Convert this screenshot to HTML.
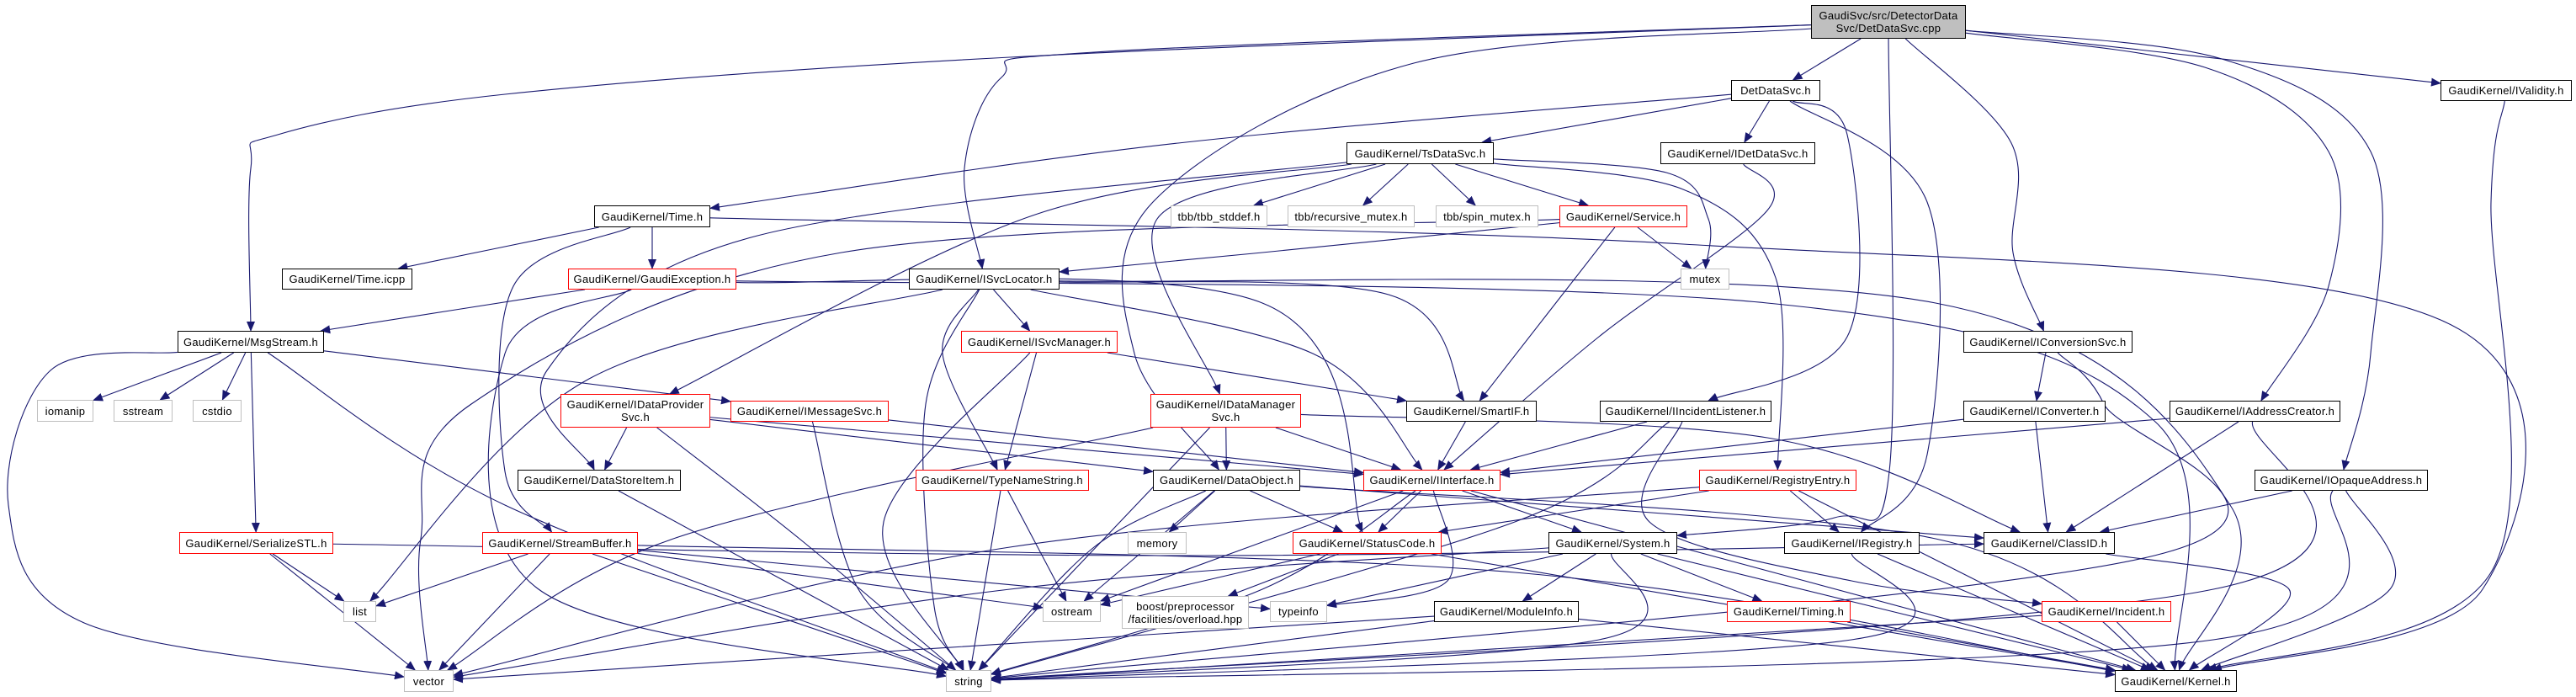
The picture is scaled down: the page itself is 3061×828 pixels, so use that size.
<!DOCTYPE html>
<html><head><meta charset="utf-8">
<style>
html,body{margin:0;padding:0;background:#fff;}
#c{position:relative;width:3061px;height:828px;overflow:hidden;font-family:"Liberation Sans",Arial,sans-serif;}
svg{position:absolute;left:0;top:0;}
.n{position:absolute;box-sizing:border-box;border:1.5px solid #000;background:#fff;font-size:13px;letter-spacing:0.3px;line-height:15px;text-align:center;display:flex;align-items:center;justify-content:center;color:#000;white-space:nowrap;}
.r{border-color:#ff0000;}
.g{border-color:#bfbfbf;}
.m{background:#bfbfbf;border-color:#000;}
</style></head><body><div id="c">
<svg id="s" width="3061" height="828" viewBox="0 0 3061 828">
<defs><marker id="a" markerWidth="12" markerHeight="10" refX="11" refY="5" orient="auto" markerUnits="userSpaceOnUse"><path d="M0,0 L12,5 L0,10 z" fill="#191970"/></marker></defs>
<g id="e" fill="none" stroke="#191970" stroke-width="1.1"></g>
</svg>
<div class="n m" style="left:2152px;top:6px;width:184px;height:40px;">GaudiSvc/src/DetectorData<br>Svc/DetDataSvc.cpp</div>
<div class="n" style="left:2057px;top:95px;width:106px;height:25px;">DetDataSvc.h</div>
<div class="n" style="left:2900px;top:95px;width:156px;height:25px;">GaudiKernel/IValidity.h</div>
<div class="n" style="left:1600px;top:169px;width:175px;height:26px;">GaudiKernel/TsDataSvc.h</div>
<div class="n" style="left:1973px;top:169px;width:184px;height:26px;">GaudiKernel/IDetDataSvc.h</div>
<div class="n" style="left:706px;top:244px;width:138px;height:26px;">GaudiKernel/Time.h</div>
<div class="n g" style="left:1391px;top:244px;width:115px;height:26px;">tbb/tbb_stddef.h</div>
<div class="n g" style="left:1530px;top:244px;width:151px;height:26px;">tbb/recursive_mutex.h</div>
<div class="n g" style="left:1706px;top:244px;width:122px;height:26px;">tbb/spin_mutex.h</div>
<div class="n r" style="left:1853px;top:244px;width:152px;height:26px;">GaudiKernel/Service.h</div>
<div class="n" style="left:335px;top:319px;width:155px;height:25px;">GaudiKernel/Time.icpp</div>
<div class="n r" style="left:675px;top:319px;width:200px;height:25px;">GaudiKernel/GaudiException.h</div>
<div class="n" style="left:1080px;top:319px;width:179px;height:25px;">GaudiKernel/ISvcLocator.h</div>
<div class="n g" style="left:1997px;top:319px;width:58px;height:25px;">mutex</div>
<div class="n" style="left:211px;top:393px;width:174px;height:26px;">GaudiKernel/MsgStream.h</div>
<div class="n r" style="left:1142px;top:393px;width:186px;height:26px;">GaudiKernel/ISvcManager.h</div>
<div class="n" style="left:2333px;top:393px;width:201px;height:26px;">GaudiKernel/IConversionSvc.h</div>
<div class="n g" style="left:44px;top:475px;width:67px;height:26px;">iomanip</div>
<div class="n g" style="left:135px;top:475px;width:70px;height:26px;">sstream</div>
<div class="n g" style="left:229px;top:475px;width:58px;height:26px;">cstdio</div>
<div class="n r" style="left:666px;top:468px;width:178px;height:40px;">GaudiKernel/IDataProvider<br>Svc.h</div>
<div class="n r" style="left:868px;top:476px;width:188px;height:25px;">GaudiKernel/IMessageSvc.h</div>
<div class="n r" style="left:1367px;top:468px;width:179px;height:40px;">GaudiKernel/IDataManager<br>Svc.h</div>
<div class="n" style="left:1671px;top:476px;width:155px;height:25px;">GaudiKernel/SmartIF.h</div>
<div class="n" style="left:1901px;top:476px;width:204px;height:25px;">GaudiKernel/IIncidentListener.h</div>
<div class="n" style="left:2333px;top:476px;width:169px;height:25px;">GaudiKernel/IConverter.h</div>
<div class="n" style="left:2578px;top:476px;width:203px;height:25px;">GaudiKernel/IAddressCreator.h</div>
<div class="n" style="left:615px;top:558px;width:194px;height:25px;">GaudiKernel/DataStoreItem.h</div>
<div class="n r" style="left:1088px;top:558px;width:206px;height:25px;">GaudiKernel/TypeNameString.h</div>
<div class="n" style="left:1370px;top:558px;width:175px;height:25px;">GaudiKernel/DataObject.h</div>
<div class="n r" style="left:1620px;top:558px;width:163px;height:25px;">GaudiKernel/IInterface.h</div>
<div class="n r" style="left:2019px;top:558px;width:187px;height:25px;">GaudiKernel/RegistryEntry.h</div>
<div class="n" style="left:2679px;top:558px;width:206px;height:25px;">GaudiKernel/IOpaqueAddress.h</div>
<div class="n r" style="left:213px;top:632px;width:183px;height:26px;">GaudiKernel/SerializeSTL.h</div>
<div class="n r" style="left:573px;top:632px;width:185px;height:26px;">GaudiKernel/StreamBuffer.h</div>
<div class="n g" style="left:1340px;top:632px;width:70px;height:26px;">memory</div>
<div class="n r" style="left:1536px;top:632px;width:177px;height:26px;">GaudiKernel/StatusCode.h</div>
<div class="n" style="left:1840px;top:632px;width:153px;height:26px;">GaudiKernel/System.h</div>
<div class="n" style="left:2120px;top:632px;width:161px;height:26px;">GaudiKernel/IRegistry.h</div>
<div class="n" style="left:2357px;top:632px;width:156px;height:26px;">GaudiKernel/ClassID.h</div>
<div class="n g" style="left:408px;top:714px;width:39px;height:25px;">list</div>
<div class="n g" style="left:1239px;top:714px;width:69px;height:25px;">ostream</div>
<div class="n g" style="left:1333px;top:708px;width:151px;height:39px;">boost/preprocessor<br>/facilities/overload.hpp</div>
<div class="n g" style="left:1509px;top:714px;width:68px;height:25px;">typeinfo</div>
<div class="n" style="left:1704px;top:714px;width:172px;height:25px;">GaudiKernel/ModuleInfo.h</div>
<div class="n r" style="left:2052px;top:714px;width:147px;height:25px;">GaudiKernel/Timing.h</div>
<div class="n r" style="left:2426px;top:714px;width:154px;height:25px;">GaudiKernel/Incident.h</div>
<div class="n g" style="left:480px;top:796px;width:59px;height:26px;">vector</div>
<div class="n g" style="left:1124px;top:796px;width:54px;height:26px;">string</div>
<div class="n" style="left:2513px;top:796px;width:145px;height:26px;">GaudiKernel/Kernel.h</div>
</div>
<script>
var N={
main:[2152,6,2336,46],det:[2057,95,2163,120],ival:[2900,95,3056,120],ts:[1600,169,1775,195],idet:[1973,169,2157,195],
time:[706,244,844,270],tbbs:[1391,244,1506,270],tbbr:[1530,244,1681,270],tbbsp:[1706,244,1828,270],svc:[1853,244,2005,270],
ticpp:[335,319,490,344],gex:[675,319,875,344],isl:[1080,319,1259,344],mutex:[1997,319,2055,344],
msg:[211,393,385,419],ism:[1142,393,1328,419],iconv:[2333,393,2534,419],
iom:[44,475,111,501],sst:[135,475,205,501],cst:[229,475,287,501],idp:[666,468,844,508],ims:[868,476,1056,501],
idm:[1367,468,1546,508],smart:[1671,476,1826,501],iil:[1901,476,2105,501],iconv2:[2333,476,2502,501],iac:[2578,476,2781,501],
dsi:[615,558,809,583],tns:[1088,558,1294,583],dobj:[1370,558,1545,583],iint:[1620,558,1783,583],reg:[2019,558,2206,583],ioa:[2679,558,2885,583],
ser:[213,632,396,658],sbuf:[573,632,758,658],mem:[1340,632,1410,658],sc:[1536,632,1713,658],sys:[1840,632,1993,658],ireg:[2120,632,2281,658],cid:[2357,632,2513,658],
list:[408,714,447,739],ost:[1239,714,1308,739],boost:[1333,708,1484,747],tinfo:[1509,714,1577,739],mod:[1704,714,1876,739],timing:[2052,714,2199,739],inc:[2426,714,2580,739],
vec:[480,796,539,822],str:[1124,796,1178,822],ker:[2513,796,2658,822]};
var E=[
['main','det'],['main','msg',[[1200,68],[600,112],[330,160],[298,200]]],['main','isl',[[1300,62],[1190,92],[1146,200]]],
['main','dobj',[[1680,75],[1370,240],[1348,420]]],['main','sys',[[2245,560],[2180,615]]],['main','iconv',[[2390,170],[2392,300]]],
['main','iac',[[2620,80],[2767,180],[2767,340]]],['main','ioa',[[2640,70],[2817,180],[2817,420]]],['main','ival'],
['det','ts'],['det','time',[[1400,170]]],['det','idet'],['det','iil',[[2195,160],[2195,400]]],['det','ireg',[[2290,240],[2290,540]]],
['ts','tbbs'],['ts','tbbr'],['ts','tbbsp'],['ts','svc'],['ts','mutex',[[1980,205],[2030,260]]],['ts','reg',[[2000,225],[2110,330]]],
['ts','idm',[[1375,260]]],['ts','idp',[[1230,255]]],['ts','dsi',[[900,280],[650,440]]],
['time','ticpp'],['time','gex'],['time','sbuf',[[610,340],[600,560]]],['time','ker',[[2000,290],[2900,380],[2950,700]]],
['gex','msg'],['gex','str',[[600,420],[640,700]]],['gex','ker',[[2100,360],[2560,500]]],['gex','sc',[[1500,360]]],
['isl','ism'],['isl','tns',[[1120,420]]],['isl','str',[[1100,480],[1110,720]]],['isl','list',[[700,450]]],['isl','smart',[[1650,350]]],['isl','iint',[[1560,420]]],['isl','ker',[[2300,360],[2650,600]]],
['svc','isl',[[1500,300]]],['svc','smart'],['svc','mutex'],['svc','vec',[[1000,300],[560,480],[500,640]]],
['msg','iom'],['msg','sst'],['msg','cst'],['msg','ser'],['msg','vec',[[60,440],[10,600],[100,740]]],['msg','str',[[600,600]]],['msg','ims'],
['ser','list'],['ser','vec'],['ser','cid',[[1400,660]]],
['sbuf','list'],['sbuf','vec'],['sbuf','str'],['sbuf','ost'],['sbuf','tinfo'],['sbuf','ker',[[1800,680]]],
['idp','dsi'],['idp','str',[[950,640]]],['idp','iint'],['idp','dobj'],
['ims','str',[[1020,700]]],['ims','iint'],['dsi','str'],
['ism','tns'],['ism','str',[[1050,620]]],['ism','smart'],['tns','str'],['tns','ost'],
['idm','dobj'],['idm','iint'],['idm','vec',[[800,640]]],['idm','str'],['idm','cid',[[2100,520]]],
['smart','iint'],['dobj','mem'],['dobj','sc'],['dobj','ost'],['dobj','str',[[1300,650]]],['dobj','cid'],['dobj','ker',[[2300,640]]],
['iint','sc'],['iint','ost'],['iint','tinfo',[[1720,690]]],['iint','sys'],['iint','ker'],['iint','str',[[1500,700]]],
['sc','boost'],['sc','ost'],['sc','ker'],['idet','iint',[[2100,250],[1900,400]]],
['iil','iint'],['iil','str',[[1800,620]]],['iil','inc',[[1960,620],[2200,690]]],
['reg','ireg'],['reg','sc'],['reg','ker'],['reg','vec',[[1200,650]]],
['sys','mod'],['sys','timing'],['sys','tinfo'],['sys','str',[[1900,760]]],['sys','vec',[[1200,700]]],['sys','ker'],
['mod','vec'],['mod','str'],['mod','ker'],['ireg','str',[[2200,760]]],['ireg','ker'],['timing','ker'],
['iconv','iconv2'],['iconv','str',[[2500,480],[2560,660]]],['iconv2','cid'],['iconv2','iint'],['cid','ker',[[2720,700]]],
['iac','cid'],['iac','iint'],['iac','str',[[2630,700]]],['ioa','cid'],['ioa','ker',[[2840,700]]],['ioa','str',[[2630,760]]],
['inc','ker'],['inc','str'],['ival','ker',[[2960,240],[2960,680]]]];
function cen(b){return [(b[0]+b[2])/2,(b[1]+b[3])/2];}
function clip(b,p){var c=cen(b),dx=p[0]-c[0],dy=p[1]-c[1],hw=(b[2]-b[0])/2,hh=(b[3]-b[1])/2;
var t=Math.min(dx?hw/Math.abs(dx):1e9,dy?hh/Math.abs(dy):1e9);return [c[0]+dx*t,c[1]+dy*t];}
var g=document.getElementById('e'),ns='http://www.w3.org/2000/svg';
E.forEach(function(e){var A=N[e[0]],B=N[e[1]],v=e[2]||[];
var p1=clip(A,v.length?v[0]:cen(B)),p2=clip(B,v.length?v[v.length-1]:cen(A));
var pts=[p1].concat(v,[p2]);var d='M'+pts[0][0]+','+pts[0][1];
for(var i=0;i<pts.length-1;i++){var p0=pts[i-1]||pts[i],a=pts[i],b=pts[i+1],p3=pts[i+2]||b;
var c1=[a[0]+(b[0]-p0[0])/6,a[1]+(b[1]-p0[1])/6],c2=[b[0]-(p3[0]-a[0])/6,b[1]-(p3[1]-a[1])/6];
d+=' C'+c1[0]+','+c1[1]+' '+c2[0]+','+c2[1]+' '+b[0]+','+b[1];}
var p=document.createElementNS(ns,'path');p.setAttribute('d',d);p.setAttribute('marker-end','url(#a)');g.appendChild(p);});
</script>
</body></html>
